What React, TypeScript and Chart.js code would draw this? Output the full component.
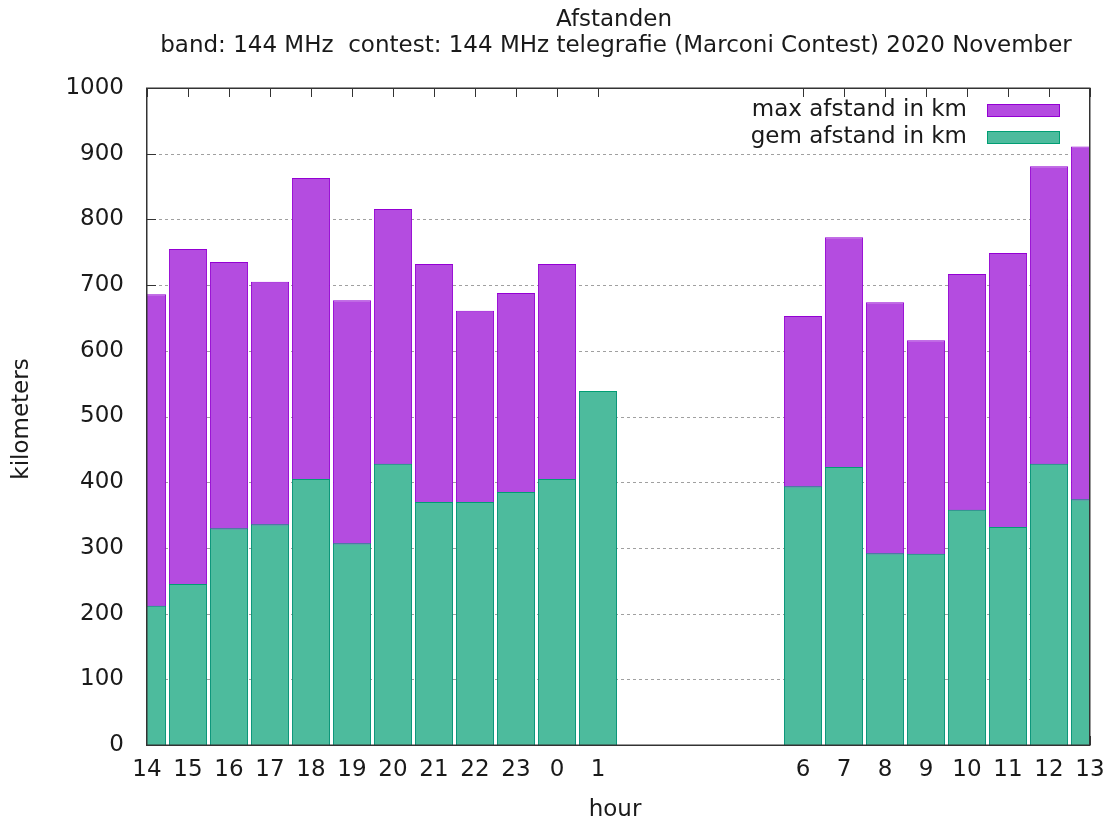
import React, { useEffect, useRef } from 'react';
import { Chart, registerables } from 'chart.js';

Chart.register(...registerables);

const hours = ['14', '15', '16', '17', '18', '19', '20', '21', '22', '23', '0', '1', '2', '3', '4', '5', '6', '7', '8', '9', '10', '11', '12', '13'];
const maxAfstand = [686, 755, 735, 705, 863, 677, 816, 732, 661, 688, 732, 539, null, null, null, null, 653, 773, 674, 616, 717, 749, 881, 911];
const gemAfstand = [212, 245, 330, 336, 405, 307, 428, 370, 370, 385, 405, 539, null, null, null, null, 394, 423, 292, 291, 358, 332, 428, 374];
const yTickValues = [0, 100, 200, 300, 400, 500, 600, 700, 800, 900, 1000];

const titleLines = ['Afstanden', 'band: 144 MHz  contest: 144 MHz telegrafie (Marconi Contest) 2020 November'];
const seriesLabels = ['max afstand in km', 'gem afstand in km'];
const xTitle = 'hour';
const yTitle = 'kilometers';

const FONT = 'DejaVu Sans';
const FS = 23;
const TEXT = '#1a1a1a';
const FRAME = '#333333';
const MAX_FILL = '#b44ce0';
const MAX_LINE = '#9400d3';
const GEM_FILL = '#4dbb9d';
const GEM_LINE = '#009e73';

const hasData = (i: number) => maxAfstand[i] !== null || gemAfstand[i] !== null;

const decor = {
  id: 'gnuplotDecor',
  beforeDatasetsDraw(chart: any) {
    const { ctx, chartArea: a, scales } = chart;
    const x = scales.x;
    const y = scales.y;
    ctx.save();
    ctx.strokeStyle = '#a0a0a0';
    ctx.lineWidth = 1;
    ctx.setLineDash([3, 3]);
    yTickValues.forEach((v) => {
      if (v === 0 || v === 1000) return;
      const py = Math.round(y.getPixelForValue(v)) + 0.5;
      ctx.beginPath();
      ctx.moveTo(a.left, py);
      ctx.lineTo(a.right, py);
      ctx.stroke();
    });
    ctx.setLineDash([]);
    ctx.strokeStyle = FRAME;
    const tl = 9;
    yTickValues.forEach((v) => {
      const py = Math.round(y.getPixelForValue(v)) + 0.5;
      ctx.beginPath();
      ctx.moveTo(a.left, py);
      ctx.lineTo(a.left + tl, py);
      ctx.moveTo(a.right, py);
      ctx.lineTo(a.right - tl, py);
      ctx.stroke();
    });
    hours.forEach((h, i) => {
      if (!hasData(i)) return;
      const px = Math.round(x.getPixelForValue(i)) + 0.5;
      ctx.beginPath();
      ctx.moveTo(px, a.top);
      ctx.lineTo(px, a.top + tl);
      ctx.moveTo(px, a.bottom);
      ctx.lineTo(px, a.bottom - tl);
      ctx.stroke();
    });
    ctx.restore();
  },
  afterDatasetsDraw(chart: any) {
    const { ctx, chartArea: a } = chart;
    ctx.save();
    ctx.strokeStyle = FRAME;
    ctx.lineWidth = 1.5;
    ctx.strokeRect(Math.round(a.left) - 0.25, Math.round(a.top) + 0.25, Math.round(a.right - a.left), Math.round(a.bottom - a.top));
    ctx.fillStyle = TEXT;
    ctx.font = `${FS}px "${FONT}"`;
    ctx.textAlign = 'center';
    ctx.textBaseline = 'middle';
    ctx.fillText(titleLines[0], 614, 20);
    ctx.fillText(titleLines[1], 616, 46);
    ctx.fillText(xTitle, 615, 810);
    ctx.save();
    ctx.translate(22, 419);
    ctx.rotate(-Math.PI / 2);
    ctx.fillText(yTitle, 0, 0);
    ctx.restore();
    const fills = [MAX_FILL, GEM_FILL];
    const lines = [MAX_LINE, GEM_LINE];
    const rows = [110.5, 137.5];
    ctx.textAlign = 'right';
    rows.forEach((ry, k) => {
      ctx.fillStyle = TEXT;
      ctx.fillText(seriesLabels[k], 967, ry);
      ctx.fillStyle = fills[k];
      ctx.fillRect(987.5, ry - 6, 72, 12);
      ctx.strokeStyle = lines[k];
      ctx.lineWidth = 1;
      ctx.strokeRect(987.5, ry - 6, 72, 12);
    });
    ctx.restore();
  },
};

export default function App() {
  const ref = useRef<HTMLCanvasElement | null>(null);
  useEffect(() => {
    if (!ref.current) return;
    Chart.defaults.font.family = FONT;
    Chart.defaults.font.size = FS;
    Chart.defaults.color = TEXT;
    const chart = new Chart(ref.current, {
      type: 'bar',
      data: {
        labels: hours,
        datasets: [
          {
            label: seriesLabels[0],
            data: maxAfstand as any,
            backgroundColor: MAX_FILL,
            borderColor: MAX_LINE,
            borderWidth: 1,
            grouped: false,
            order: 1,
            barPercentage: 0.93,
            categoryPercentage: 1,
          },
          {
            label: seriesLabels[1],
            data: gemAfstand as any,
            backgroundColor: GEM_FILL,
            borderColor: GEM_LINE,
            borderWidth: 1,
            grouped: false,
            order: 0,
            barPercentage: 0.93,
            categoryPercentage: 1,
          },
        ],
      },
      options: {
        responsive: false,
        animation: false,
        devicePixelRatio: 1,
        layout: { padding: { top: 88, right: 15, left: 0, bottom: 0 } },
        plugins: {
          legend: { display: false },
          title: { display: false },
          tooltip: { enabled: false },
        },
        scales: {
          x: {
            type: 'category',
            offset: false,
            grid: { display: false, offset: false, drawTicks: false },
            border: { display: false },
            ticks: {
              autoSkip: false,
              maxRotation: 0,
              minRotation: 0,
              padding: 11,
              color: TEXT,
              font: { size: FS, family: FONT },
              callback: (_v: any, i: number) => (hasData(i) ? hours[i] : ''),
            },
            afterFit: (s: any) => {
              s.height = 81;
              s.paddingLeft = 0;
              s.paddingRight = 0;
            },
          },
          y: {
            min: 0,
            max: 1000,
            grid: { display: false, drawTicks: false },
            border: { display: false },
            ticks: {
              stepSize: 100,
              padding: 23,
              color: TEXT,
              font: { size: FS, family: FONT },
              callback: (v: any) => String(v),
            },
            afterFit: (s: any) => {
              s.width = 147;
              s.paddingTop = 0;
              s.paddingBottom = 0;
            },
          },
        },
      },
      plugins: [decor],
    });
    return () => chart.destroy();
  }, []);
  return (
    <div style={{ position: 'fixed', left: 0, top: 0, width: 1105, height: 826, background: '#fff' }}>
      <canvas ref={ref} width={1105} height={826} />
    </div>
  );
}
